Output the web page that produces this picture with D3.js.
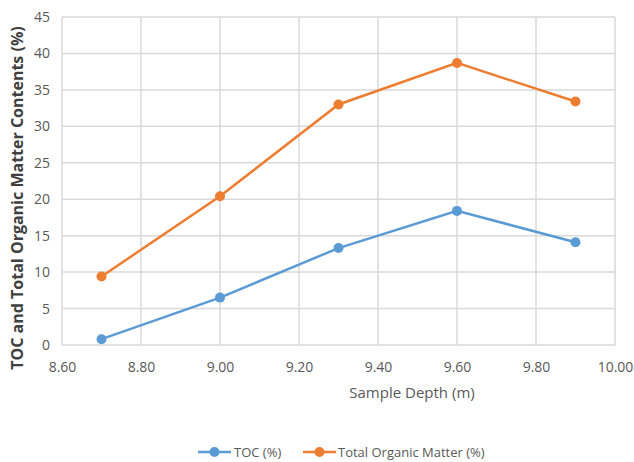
<!DOCTYPE html>
<html><head><meta charset="utf-8">
<script src="https://cdn.jsdelivr.net/npm/d3@7"></script>
<style>body{margin:0;background:#fff}svg{display:block}text{font-family:"Liberation Sans Narrow","Open Sans",sans-serif}</style>
</head><body><svg id="c" width="634" height="462"></svg>
<script>
const depths = [8.70, 9.00, 9.30, 9.60, 9.90];
const tocValues = [0.8, 6.5, 13.3, 18.4, 14.1];
const tomValues = [9.4, 20.4, 33.0, 38.7, 33.4];
const xTicks = [8.60, 8.80, 9.00, 9.20, 9.40, 9.60, 9.80, 10.00];
const yTicks = [0, 5, 10, 15, 20, 25, 30, 35, 40, 45];
const seriesNames = ["TOC (%)", "Total Organic Matter (%)"];
const colors = ["#5B9BD5", "#ED7D31"];

const svg = d3.select("#c");
const x = d3.scaleLinear().domain([8.6, 10.0]).range([62, 615]);
const y = d3.scaleLinear().domain([0, 45]).range([345, 17]);
const font = "'Liberation Sans Narrow','Open Sans',sans-serif";

// grid
svg.append("g").selectAll("line").data(yTicks).join("line")
  .attr("x1", 62).attr("x2", 615).attr("y1", d => y(d)).attr("y2", d => y(d))
  .attr("stroke", "#d9d9d9").attr("stroke-width", 1.5);
svg.append("g").selectAll("line").data(xTicks).join("line")
  .attr("y1", 17).attr("y2", 345).attr("x1", d => x(d)).attr("x2", d => x(d))
  .attr("stroke", "#d9d9d9").attr("stroke-width", 1.5);

// axes
const xa = svg.append("g").attr("transform", "translate(0,345)")
  .call(d3.axisBottom(x).tickValues(xTicks).tickFormat(d3.format(".2f")).tickSize(0).tickPadding(17));
const ya = svg.append("g").attr("transform", "translate(62,0)")
  .call(d3.axisLeft(y).tickValues(yTicks).tickSize(0).tickPadding(12));
[xa, ya].forEach(a => {
  a.select(".domain").remove();
  a.selectAll("text").attr("fill", "#595959").style("font-size", "14px").style("font-family", font);
});

// lines
const data = [tocValues, tomValues];
const line = d3.line().x((d, i) => x(depths[i])).y(d => y(d));
data.forEach((vals, s) => {
  svg.append("path").datum(vals).attr("d", line).attr("fill", "none")
    .attr("stroke", colors[s]).attr("stroke-width", 2.5);
  svg.append("g").selectAll("circle").data(vals).join("circle")
    .attr("cx", (d, i) => x(depths[i])).attr("cy", d => y(d)).attr("r", 5)
    .attr("fill", colors[s]);
});

// titles
svg.append("text").attr("x", 412).attr("y", 398).attr("text-anchor", "middle")
  .attr("fill", "#595959").style("font-size", "15px").text("Sample Depth (m)");
svg.append("text").attr("transform", "translate(23,198) rotate(-90)").attr("text-anchor", "middle")
  .attr("fill", "#404040").style("font-size", "16px").style("font-weight", "bold")
  .text("TOC and Total Organic Matter Contents (%)");

// legend
const leg = [{x0: 198, tx: 234}, {x0: 303, tx: 338}];
leg.forEach((l, s) => {
  svg.append("line").attr("x1", l.x0).attr("x2", l.x0 + 33).attr("y1", 452).attr("y2", 452)
    .attr("stroke", colors[s]).attr("stroke-width", 2.5);
  svg.append("circle").attr("cx", l.x0 + 16.5).attr("cy", 452).attr("r", 5).attr("fill", colors[s]);
  svg.append("text").attr("x", l.tx).attr("y", 457).attr("fill", "#595959")
    .style("font-size", "13px").text(seriesNames[s]);
});
</script></body></html>
